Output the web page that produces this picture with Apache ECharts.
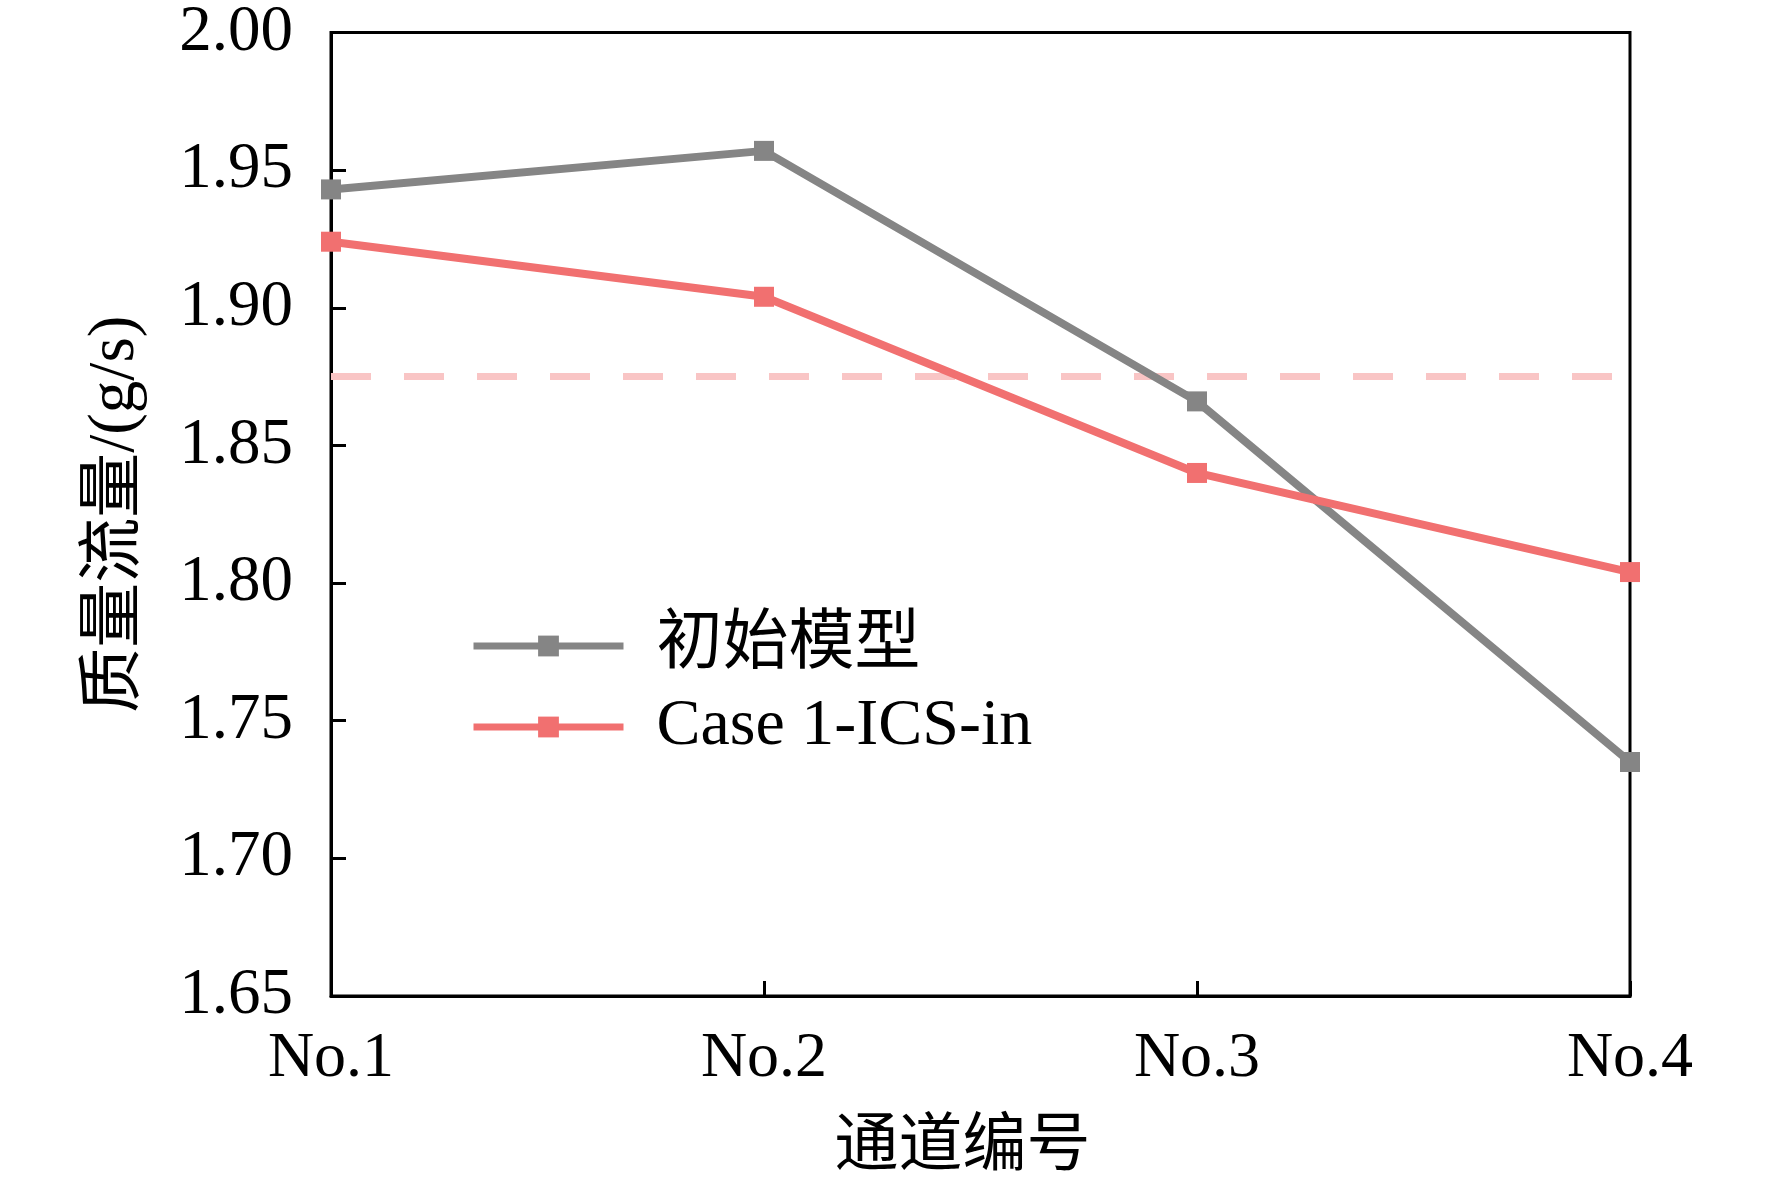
<!DOCTYPE html>
<html>
<head>
<meta charset="utf-8">
<script src="https://cdn.jsdelivr.net/npm/echarts@6/dist/echarts.min.js"></script>
<style>
html,body{margin:0;padding:0;background:#fff;}
#chart{width:1772px;height:1185px;}
</style>
</head>
<body>
<div id="chart"></div>
<script>
const categories = ['No.1', 'No.2', 'No.3', 'No.4'];
const initialModel = [1.943, 1.957, 1.866, 1.735];
const case1ICSin = [1.924, 1.904, 1.840, 1.804];
const referenceLine = [1.875, 1.875, 1.875, 1.875];
const seriesNames = ['初始模型', 'Case 1-ICS-in'];
const yTicks = { min: 1.65, max: 2.00, interval: 0.05 };

const FONT = '"Liberation Serif", "Times New Roman", "Noto Sans CJK SC", serif';
const chart = echarts.init(document.getElementById('chart'));
chart.setOption({
  backgroundColor: '#ffffff',
  animation: false,
  grid: {
    left: 331, top: 32, right: 142, bottom: 189,
    show: true, borderColor: '#000', borderWidth: 3, backgroundColor: 'transparent'
  },
  legend: {
    data: seriesNames,
    orient: 'vertical',
    left: 465,
    top: 608,
    itemWidth: 150,
    itemHeight: 26,
    itemGap: 15,
    lineStyle: { width: 7 },
    textStyle: { fontFamily: FONT, fontSize: 66, color: '#000', lineHeight: 66, padding: [0, 0, 0, 28] }
  },
  xAxis: {
    type: 'category',
    data: categories,
    boundaryGap: false,
    name: '通道编号',
    nameLocation: 'middle',
    nameGap: 120,
    nameTextStyle: { fontFamily: FONT, fontSize: 64, color: '#000', padding: [0, 36, 0, 0] },
    axisLine: { lineStyle: { color: '#000', width: 3 } },
    axisTick: { inside: true, length: 15, lineStyle: { color: '#000', width: 3 } },
    axisLabel: { fontFamily: FONT, fontSize: 64, color: '#000', margin: 31 },
    splitLine: { show: false }
  },
  yAxis: {
    type: 'value',
    min: yTicks.min, max: yTicks.max, interval: yTicks.interval,
    name: '质量流量/(g/s)',
    nameLocation: 'middle',
    nameGap: 183,
    nameTextStyle: { fontFamily: FONT, fontSize: 65, color: '#000' },
    axisLine: { show: true, lineStyle: { color: '#000', width: 3 } },
    axisTick: { show: true, inside: true, length: 15, lineStyle: { color: '#000', width: 3 } },
    axisLabel: { fontFamily: FONT, fontSize: 65, color: '#000', margin: 38, formatter: v => v.toFixed(2) },
    splitLine: { show: false }
  },
  series: [
    {
      name: 'ref', type: 'line', data: referenceLine, z: 1, silent: true,
      symbol: 'none',
      lineStyle: { color: '#f9c5c5', width: 7, type: [40, 33] },
      itemStyle: { color: '#f9c5c5' }
    },
    {
      name: seriesNames[0], type: 'line', data: initialModel, z: 3,
      symbol: 'rect', symbolSize: 20,
      lineStyle: { color: '#858585', width: 8 },
      itemStyle: { color: '#858585' }
    },
    {
      name: seriesNames[1], type: 'line', data: case1ICSin, z: 4,
      symbol: 'rect', symbolSize: 20,
      lineStyle: { color: '#f17070', width: 8 },
      itemStyle: { color: '#f17070' }
    }
  ]
});
</script>
</body>
</html>
